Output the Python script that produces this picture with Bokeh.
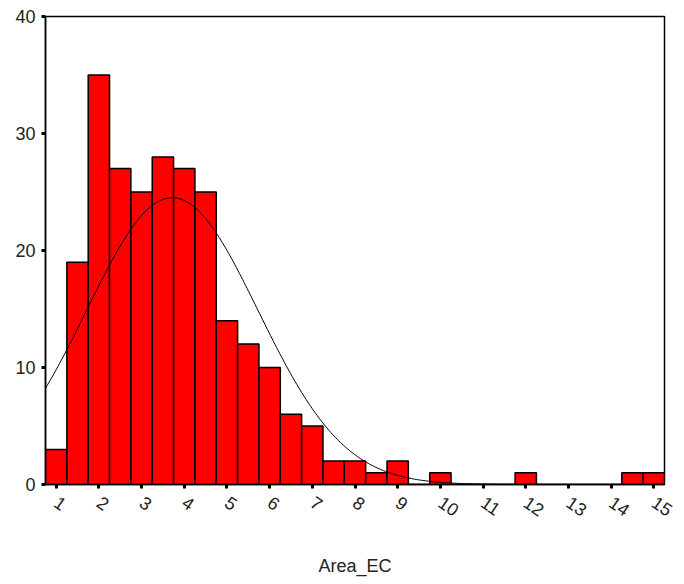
import math
import numpy as np
from bokeh.plotting import figure
from bokeh.models import Range1d, FixedTicker, ColumnDataSource
from bokeh.embed import file_html
from bokeh.resources import INLINE

# Histogram of Area_EC (bin width 0.5, bins centred on these values)
bin_centers = [1.0, 1.5, 2.0, 2.5, 3.0, 3.5, 4.0, 4.5, 5.0, 5.5, 6.0, 6.5, 7.0, 7.5,
               8.0, 8.5, 9.0, 9.5, 10.0, 10.5, 11.0, 11.5, 12.0, 12.5, 13.0, 13.5,
               14.0, 14.5, 15.0]
counts = [3, 19, 35, 27, 25, 28, 27, 25, 14, 12, 10, 6, 5, 2,
          2, 1, 2, 0, 1, 0, 0, 0, 1, 0, 0, 0,
          0, 1, 1]
bin_width = 0.5
x_ticks = list(range(1, 16))
x_tick_labels = [str(t) for t in x_ticks]
y_ticks = [0, 10, 20, 30, 40]

# Normal curve parameters (as fitted by the original chart)
mean_val = 3.72
sd_val = 2.01
n_total = sum(counts)

FONT = "Liberation Sans"

p = figure(width=684, height=584, output_backend="svg", toolbar_location=None,
           x_range=Range1d(0.75, 15.25), y_range=Range1d(0, 40),
           min_border_left=45, min_border_right=20, min_border_top=16,
           min_border_bottom=100)

src = ColumnDataSource(dict(x=bin_centers, top=counts))
p.vbar(x="x", top="top", width=bin_width, bottom=0, source=src,
       fill_color="#ff0000", line_color="black", line_width=1.5)

xs = np.linspace(0.75, 15.25, 400)
ys = n_total * bin_width / (sd_val * math.sqrt(2 * math.pi)) * np.exp(-0.5 * ((xs - mean_val) / sd_val) ** 2)
p.line(xs, ys, line_color="black", line_width=1)

p.xgrid.visible = False
p.ygrid.visible = False
p.outline_line_color = "black"
p.outline_line_width = 1.5
p.background_fill_color = "white"
p.border_fill_color = "white"

p.xaxis.ticker = FixedTicker(ticks=x_ticks)
p.xaxis.major_label_overrides = {t: l for t, l in zip(x_ticks, x_tick_labels)}
p.yaxis.ticker = FixedTicker(ticks=y_ticks)
p.xaxis.minor_tick_line_color = None
p.yaxis.minor_tick_line_color = None

for ax in (p.xaxis, p.yaxis):
    ax.axis_line_color = "black"
    ax.axis_line_width = 1.5
    ax.major_tick_in = 0
    ax.major_tick_out = 4
    ax.major_tick_line_width = 3
    ax.major_tick_line_color = "black"
    ax.major_label_text_font = FONT
    ax.major_label_text_font_size = "18px"
    ax.major_label_text_color = "#222222"

p.xaxis.major_label_orientation = -0.6
p.xaxis.major_label_standoff = 12
p.yaxis.major_label_standoff = 6

p.xaxis.axis_label = "Area_EC"
p.xaxis.axis_label_text_font = FONT
p.xaxis.axis_label_text_font_size = "18px"
p.xaxis.axis_label_text_font_style = "normal"
p.xaxis.axis_label_text_color = "#222222"
p.xaxis.axis_label_standoff = 30

open("out.html", "w").write(file_html(p, INLINE))
